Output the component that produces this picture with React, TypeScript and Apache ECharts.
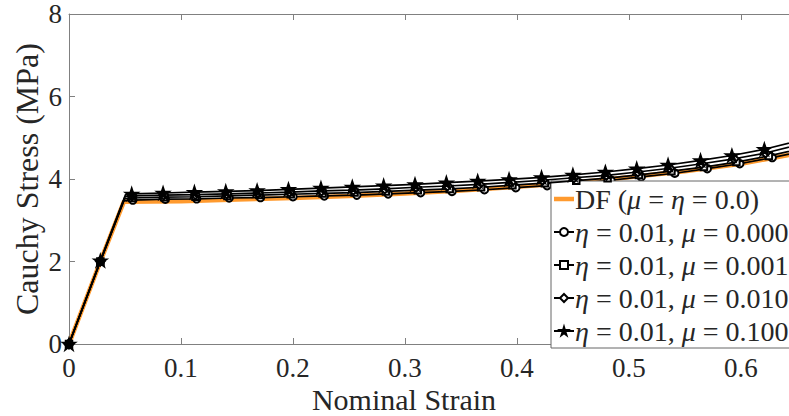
import React, { useEffect, useRef } from "react";
import * as echarts from "echarts";

// ---- data ----
const xTickValues = [0, 0.1, 0.2, 0.3, 0.4, 0.5, 0.6];
const yTickValues = [0, 2, 4, 6, 8];

const seriesNames = [
  "DF (μ = η = 0.0)",
  "η = 0.01, μ = 0.000",
  "η = 0.01, μ = 0.001",
  "η = 0.01, μ = 0.010",
  "η = 0.01, μ = 0.100",
];

const dfStrain = [0, 0.028, 0.049, 0.1, 0.15, 0.2, 0.25, 0.3, 0.35, 0.4, 0.45, 0.5, 0.55, 0.6, 0.65];
const dfStress = [0, 2.0, 3.45, 3.46, 3.5, 3.54, 3.59, 3.65, 3.72, 3.81, 3.91, 4.04, 4.19, 4.37, 4.62];

const mu000Strain = [0, 0.028, 0.057, 0.086, 0.114, 0.143, 0.171, 0.2, 0.228, 0.257, 0.285, 0.314, 0.342, 0.371, 0.399, 0.427, 0.456, 0.484, 0.511, 0.541, 0.57, 0.599, 0.628, 0.657];
const mu000Stress = [0, 2.0, 3.49, 3.51, 3.52, 3.54, 3.55, 3.57, 3.59, 3.61, 3.64, 3.67, 3.7, 3.74, 3.79, 3.84, 3.9, 3.97, 4.05, 4.14, 4.25, 4.37, 4.52, 4.68];
const mu000Yield = [0.049, 3.47];

const mu001Strain = [0, 0.028, 0.0565, 0.085, 0.113, 0.1415, 0.17, 0.198, 0.2265, 0.255, 0.283, 0.3115, 0.34, 0.368, 0.396, 0.425, 0.453, 0.481, 0.509, 0.538, 0.567, 0.596, 0.625, 0.654];
const mu001Stress = [0, 2.0, 3.54, 3.56, 3.57, 3.59, 3.61, 3.63, 3.65, 3.67, 3.7, 3.73, 3.76, 3.8, 3.85, 3.9, 3.96, 4.02, 4.1, 4.19, 4.29, 4.41, 4.56, 4.74];
const mu001Yield = [0.0495, 3.52];

const mu010Strain = [0, 0.028, 0.0562, 0.0845, 0.1127, 0.141, 0.169, 0.197, 0.2255, 0.254, 0.282, 0.31, 0.338, 0.3665, 0.395, 0.423, 0.451, 0.48, 0.508, 0.5365, 0.565, 0.594, 0.622, 0.651];
const mu010Stress = [0, 2.01, 3.59, 3.61, 3.62, 3.64, 3.66, 3.68, 3.71, 3.73, 3.76, 3.8, 3.83, 3.87, 3.92, 3.97, 4.03, 4.09, 4.17, 4.26, 4.37, 4.49, 4.63, 4.83];
const mu010Yield = [0.05, 3.57];

const mu100Strain = [0, 0.028, 0.056, 0.084, 0.112, 0.14, 0.168, 0.196, 0.225, 0.253, 0.281, 0.309, 0.337, 0.365, 0.393, 0.422, 0.45, 0.479, 0.507, 0.535, 0.564, 0.592, 0.621, 0.65];
const mu100Stress = [0, 2.02, 3.64, 3.66, 3.68, 3.7, 3.72, 3.75, 3.78, 3.81, 3.84, 3.87, 3.91, 3.95, 3.99, 4.04, 4.1, 4.17, 4.25, 4.34, 4.45, 4.57, 4.72, 4.92];
const mu100Yield = [0.0505, 3.62];

// ---- styling ----
const FONT = "Liberation Serif";
const TEXT = "#262626";
const AXIS = "#808080";
const ORANGE = "#FF9A2E";
const STAR =
  "path://M0,-100L22.45,-30.9L95.1,-30.9L36.3,11.8L58.8,80.9L0,38.2L-58.8,80.9L-36.3,11.8L-95.1,-30.9L-22.45,-30.9Z";
const BAR_ICON = "path://M0,0H20V4.5H0Z";

function pairs(xs: number[], ys: number[]) {
  return xs.map((x, i) => [x, ys[i]]);
}

function withYield(xs: number[], ys: number[], y: number[]) {
  const pts: any[] = pairs(xs, ys);
  const idx = pts.findIndex((p) => p[0] > y[0]);
  pts.splice(idx, 0, { value: [y[0], y[1]], symbol: "none" });
  return pts;
}

function richName(name: string) {
  return name
    .split(/([μη])/)
    .filter((s) => s.length > 0)
    .map((s) => (s === "μ" || s === "η" ? `{i|${s}}` : `{n|${s}}`))
    .join("");
}

export default function App() {
  const ref = useRef<HTMLDivElement>(null);

  useEffect(() => {
    if (!ref.current) return;
    const chart = echarts.init(ref.current, undefined, { renderer: "svg" });

    const blackSeries = (
      name: string,
      data: any[],
      symbol: string,
      symbolSize: number,
      z: number
    ) => ({
      type: "line",
      name,
      data,
      symbol,
      symbolSize,
      symbolKeepAspect: true,
      showSymbol: true,
      showAllSymbol: true,
      clip: true,
      z,
      color: "#000",
      lineStyle: { color: "#000", width: 1.7 },
      itemStyle: { color: "#000", borderColor: "#000", borderWidth: 1.5 },
      emphasis: { disabled: true },
      silent: true,
    });

    const LEG_FS = 28;

    const option: any = {
      animation: false,
      backgroundColor: "#fff",
      textStyle: { fontFamily: FONT },
      grid: {
        left: 69,
        top: 14,
        right: 0,
        bottom: 72,
        containLabel: false,
        outerBoundsMode: "none",
      },
      xAxis: [
        {
          type: "value",
          min: 0,
          max: 0.643,
          interval: 0.1,
          position: "bottom",
          name: "Nominal Strain",
          nameLocation: "middle",
          nameGap: 40,
          nameMoveOverlap: false,
          nameTextStyle: {
            fontFamily: FONT,
            fontSize: 30,
            color: TEXT,
            padding: [0, 50, 0, 0],
          },
          axisLine: { show: true, onZero: false, lineStyle: { color: AXIS, width: 1 } },
          axisTick: { show: true, inside: true, length: 6, lineStyle: { color: AXIS } },
          axisLabel: {
            fontFamily: FONT,
            fontSize: 27,
            color: TEXT,
            margin: 10,
            showMaxLabel: false,
            formatter: (v: number) => (xTickValues.some((t) => Math.abs(t - v) < 1e-9) ? String(+v.toFixed(1)) : ""),
          },
          splitLine: { show: false },
        },
        {
          type: "value",
          min: 0,
          max: 0.643,
          interval: 0.1,
          position: "top",
          axisLine: { show: true, onZero: false, lineStyle: { color: AXIS, width: 1 } },
          axisTick: { show: true, inside: true, length: 6, lineStyle: { color: AXIS } },
          axisLabel: { show: false },
          splitLine: { show: false },
        },
      ],
      yAxis: {
        type: "value",
        min: 0,
        max: 8,
        interval: 2,
        name: "Cauchy Stress (MPa)",
        nameLocation: "middle",
        nameGap: 26,
        nameMoveOverlap: false,
        nameTextStyle: { fontFamily: FONT, fontSize: 32, color: TEXT },
        axisLine: { show: true, onZero: false, lineStyle: { color: AXIS, width: 1 } },
        axisTick: { show: true, inside: true, length: 6, lineStyle: { color: AXIS } },
        axisLabel: {
          fontFamily: FONT,
          fontSize: 27,
          color: TEXT,
          margin: 7,
          formatter: (v: number) => (yTickValues.includes(v) ? String(v) : ""),
        },
        splitLine: { show: false },
      },
      legend: {
        orient: "vertical",
        left: 551,
        top: 181,
        padding: [4, 40, 3, 2],
        itemWidth: 20,
        itemHeight: 10,
        itemGap: 5,
        selectedMode: false,
        backgroundColor: "#fff",
        borderColor: "#666",
        borderWidth: 1,
        data: [
          { name: seriesNames[0], icon: BAR_ICON, itemStyle: { color: ORANGE } },
          seriesNames[1],
          seriesNames[2],
          seriesNames[3],
          seriesNames[4],
        ],
        formatter: (name: string) => richName(name),
        textStyle: {
          fontFamily: FONT,
          fontSize: LEG_FS,
          color: TEXT,
          lineHeight: 26,
          padding: [0, 0, 0, -4],
          rich: {
            n: { fontFamily: FONT, fontSize: LEG_FS, color: TEXT, lineHeight: 26 },
            i: { fontFamily: FONT, fontSize: LEG_FS, color: TEXT, fontStyle: "italic", lineHeight: 26 },
          },
        },
      },
      series: [
        {
          type: "line",
          name: seriesNames[0],
          data: pairs(dfStrain, dfStress),
          symbol: "none",
          clip: true,
          z: 2,
          color: ORANGE,
          lineStyle: { color: ORANGE, width: 4.5 },
          itemStyle: { color: ORANGE },
          emphasis: { disabled: true },
          silent: true,
        },
        blackSeries(seriesNames[1], withYield(mu000Strain, mu000Stress, mu000Yield), "emptyCircle", 7.5, 3),
        blackSeries(seriesNames[2], withYield(mu001Strain, mu001Stress, mu001Yield), "emptyRect", 6.5, 4),
        blackSeries(seriesNames[3], withYield(mu010Strain, mu010Stress, mu010Yield), "emptyDiamond", 9, 5),
        blackSeries(seriesNames[4], withYield(mu100Strain, mu100Stress, mu100Yield), STAR, 13, 6),
      ],
    };

    chart.setOption(option);
    return () => chart.dispose();
  }, []);

  return (
    <div
      ref={ref}
      style={{ position: "fixed", left: 0, top: 0, width: 789, height: 416, background: "#fff" }}
    />
  );
}
